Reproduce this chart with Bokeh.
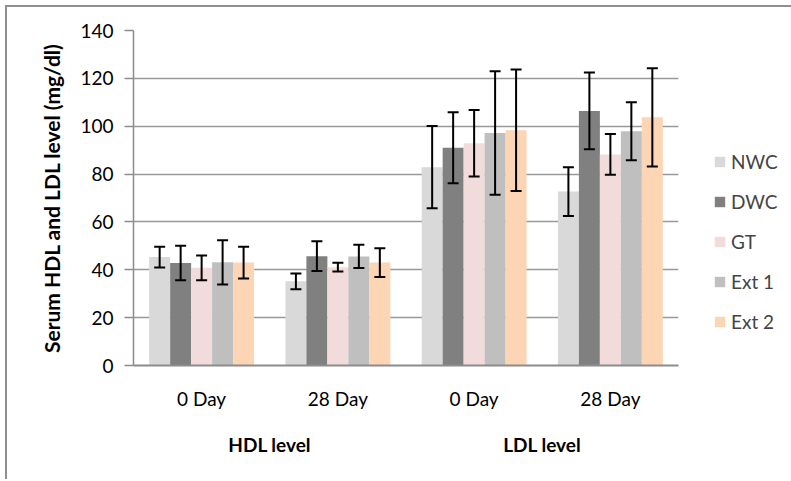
from bokeh.plotting import figure
from bokeh.models import (ColumnDataSource, FactorRange, CategoricalAxis, Legend, LegendItem,
                          Whisker, TeeHead, Range1d, FixedTicker)
from bokeh.transform import dodge
from bokeh.embed import file_html
from bokeh.resources import INLINE

groups = ["HDL level", "LDL level"]
days = ["0 Day", "28 Day"]
series = ["NWC", "DWC", "GT", "Ext 1", "Ext 2"]
colors = ["#d9d9d9", "#808080", "#f2dcdb", "#bfbfbf", "#fcd5b5"]

# values per series, order: HDL 0 Day, HDL 28 Day, LDL 0 Day, LDL 28 Day
means = {
    "NWC":   [45.3, 35.2, 82.9, 72.7],
    "DWC":   [42.8, 45.7, 91.0, 106.4],
    "GT":    [40.8, 41.1, 92.9, 88.2],
    "Ext 1": [43.1, 45.6, 97.2, 97.9],
    "Ext 2": [43.0, 43.0, 98.3, 103.7],
}
errors = {
    "NWC":   [4.3, 3.3, 17.2, 10.2],
    "DWC":   [7.2, 6.2, 14.8, 16.0],
    "GT":    [5.2, 1.8, 13.9, 8.5],
    "Ext 1": [9.2, 4.9, 25.8, 12.1],
    "Ext 2": [6.6, 6.0, 25.4, 20.5],
}
y_ticks = [0, 20, 40, 60, 80, 100, 120, 140]

FONT = "Lato"
factors = [(g, d) for g in groups for d in days]

x_range = FactorRange(factors=factors, group_padding=0, factor_padding=0, range_padding=0)
p = figure(x_range=x_range, y_range=Range1d(0, 140), frame_width=545, frame_height=335,
           output_backend="svg", toolbar_location=None,
           min_border_left=126, min_border_top=23, min_border_bottom=114, min_border_right=0)
p.outline_line_color = None
p.background_fill_color = "white"
p.border_fill_color = "white"

bw = 0.154
offsets = [-2 * bw, -bw, 0, bw, 2 * bw]
items = []
for s, c, off in zip(series, colors, offsets):
    m = means[s]
    e = errors[s]
    src = ColumnDataSource(dict(x=factors, top=m,
                                upper=[a + b for a, b in zip(m, e)],
                                lower=[a - b for a, b in zip(m, e)]))
    r = p.vbar(x=dodge("x", off, range=p.x_range), top="top", width=bw, source=src,
               fill_color=c, line_color=None)
    w = Whisker(base=dodge("x", off, range=p.x_range), upper="upper", lower="lower", source=src,
                line_color="black", line_width=2, level="overlay",
                upper_head=TeeHead(size=11, line_color="black", line_width=2),
                lower_head=TeeHead(size=11, line_color="black", line_width=2))
    p.add_layout(w)
    items.append(LegendItem(label=s, renderers=[r]))

# y axis
ya = p.yaxis[0]
ya.ticker = FixedTicker(ticks=y_ticks)
ya.axis_label = "Serum HDL and LDL level (mg/dl)"
ya.axis_label_text_font = FONT
ya.axis_label_text_font_style = "bold"
ya.axis_label_text_font_size = "21px"
ya.axis_label_text_color = "black"
ya.axis_label_standoff = 13
ya.major_label_text_font = FONT
ya.major_label_text_font_size = "19px"
ya.major_label_text_color = "black"
ya.major_label_standoff = 11
ya.axis_line_color = "#8c8c8c"
ya.axis_line_width = 1.5
ya.major_tick_line_color = "#8c8c8c"
ya.major_tick_line_width = 1.5
ya.major_tick_out = 9
ya.major_tick_in = 0
ya.minor_tick_line_color = None

p.ygrid.grid_line_color = "#999999"
p.ygrid.grid_line_width = 1.4
p.xgrid.grid_line_color = None

xa = p.xaxis[0]
xa.axis_line_color = "#8c8c8c"
xa.axis_line_width = 2
xa.major_tick_line_color = None
xa.minor_tick_line_color = None
xa.major_label_text_font = FONT
xa.major_label_text_font_size = "19px"
xa.major_label_text_color = "black"
xa.major_label_standoff = 15
xa.group_text_font_size = "0px"
xa.group_text_color = None
xa.separator_line_color = None

p.extra_x_ranges = {"grp": FactorRange(factors=groups, range_padding=0)}
ga = CategoricalAxis(x_range_name="grp")
ga.axis_line_color = None
ga.major_tick_line_color = None
ga.minor_tick_line_color = None
ga.major_label_text_font = FONT
ga.major_label_text_font_size = "19px"
ga.major_label_text_font_style = "bold"
ga.major_label_text_color = "black"
ga.major_label_standoff = 14
p.add_layout(ga, "below")

legend = Legend(items=items, location=(35, 32), border_line_color=None,
                background_fill_alpha=0,
                label_text_font=FONT, label_text_font_size="19px",
                glyph_width=13, glyph_height=13, spacing=17, label_standoff=5,
                margin=0, padding=6)
p.add_layout(legend, "right")

p.styles = {"margin-left": "5px", "margin-top": "5px",
            "border-left": "2px solid #8f8f8f", "border-top": "2px solid #8f8f8f"}

open("out.html", "w").write(file_html(p, INLINE))
